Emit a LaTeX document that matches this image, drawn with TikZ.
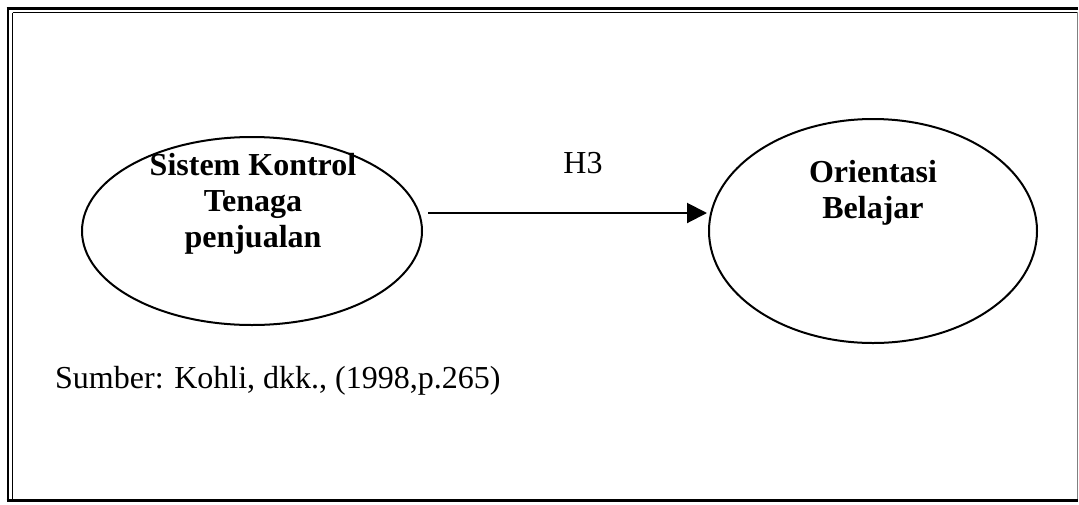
\documentclass[tikz,border=0pt]{standalone}
\usepackage{fontspec}
\setmainfont{Liberation Serif}
\usetikzlibrary{shapes.geometric,arrows.meta}
\tikzset{
  construct/.style={draw, ellipse, line width=2pt, inner sep=0pt},
  label/.style={font=\fontsize{32}{36}\selectfont\bfseries, align=center, anchor=base, inner sep=0pt},
  plain/.style={font=\fontsize{32}{36}\selectfont, inner sep=0pt, anchor=base west},
  link/.style={line width=2pt, -{Triangle[length=20pt, width=20pt]}},
}
\begin{document}
\begin{tikzpicture}[x=1pt, y=-1pt]
  \useasboundingbox (0,0) rectangle (1079,504);
  % frame
  \draw[line width=3pt] (6.5,8.5) -- (1078,8.5);
  \draw[line width=1.5pt] (12.5,12.5) -- (1077,12.5);
  \draw[line width=2.5pt] (8,7) -- (8,501.5);
  \draw[line width=1.5pt] (12.5,12.5) -- (12.5,500);
  \draw[line width=1pt, black!50] (1077,12) -- (1077,500);
  \draw[line width=3pt] (6.5,500) -- (1078,500);

  % constructs
  \node[construct, minimum width=340pt, minimum height=188pt] (L) at (252,231) {};
  \node[construct, minimum width=328pt, minimum height=224pt] (R) at (873,231) {};

  \node[label] (Lt1) at (253,175) {Sistem Kontrol};
  \node[label] (Lt2) at (253,211) {Tenaga};
  \node[label] (Lt3) at (253,247) {penjualan};
  \node[label] (Rt1) at (873,182) {Orientasi};
  \node[label] (Rt2) at (873,218) {Belajar};

  % hypothesis path
  \coordinate (from) at (428,213);
  \coordinate (to) at (707,213);
  \draw[link] (from) -- (to);
  \node[font=\fontsize{32}{36}\selectfont, anchor=base, inner sep=0pt] (H) at (583,173) {H3};

  \node[plain] (src) at (55,388) {Sumber: Kohli, dkk., (1998,p.265)};
\end{tikzpicture}
\end{document}
